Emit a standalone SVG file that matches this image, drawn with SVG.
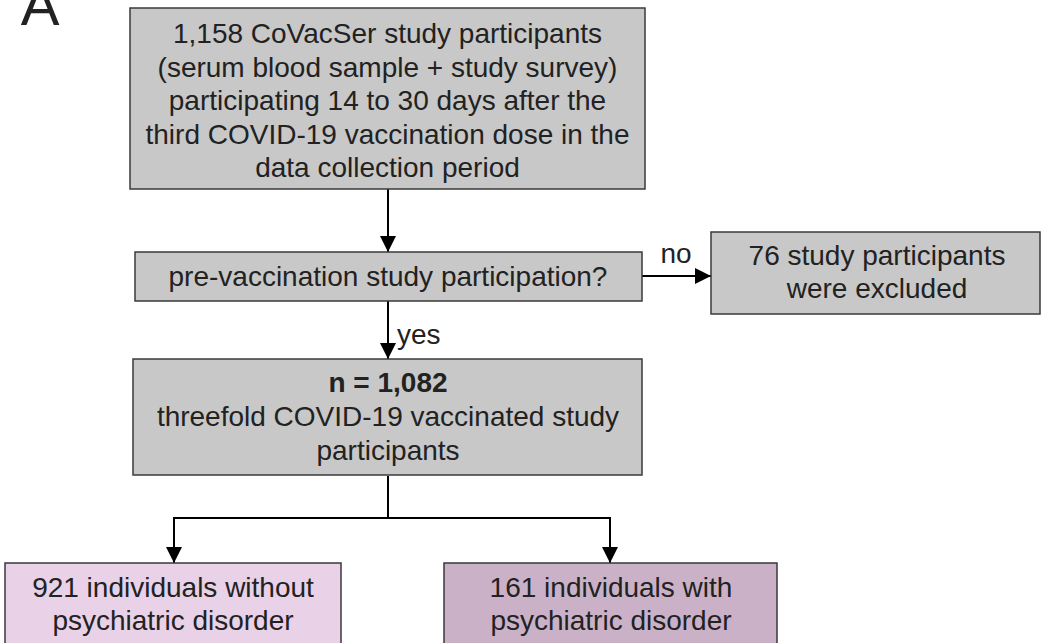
<svg xmlns="http://www.w3.org/2000/svg" width="1043" height="643" viewBox="0 0 1043 643">
<style>
.box{stroke:#3a3a3a;stroke-width:1.5}
.grey{fill:#c8c8c8}
.pink{fill:#e9d1e7}
.mauve{fill:#cbb1c8}
text{font-family:"Liberation Sans",Arial,sans-serif;font-size:28px;fill:#222;text-anchor:middle}
.conn{stroke:#000;stroke-width:2;fill:none}
</style>
<defs>
<marker id="ah" markerUnits="userSpaceOnUse" markerWidth="16" markerHeight="16" viewBox="0 0 16 16" refX="16" refY="8" orient="auto">
<path d="M0,0 L16,8 L0,16 Z" fill="#000"/>
</marker>
</defs>
<rect width="1043" height="643" fill="#fff"/>
<text id="panel" x="40" y="25" style="font-size:58px;fill:#222">A</text>
<g id="connectors">
<line class="conn" x1="388" y1="189" x2="388" y2="252" marker-end="url(#ah)"/>
<line class="conn" x1="388" y1="301" x2="388" y2="359" marker-end="url(#ah)"/>
<line class="conn" x1="642" y1="276" x2="711" y2="276" marker-end="url(#ah)"/>
<polyline class="conn" points="388,476 388,518"/>
<polyline class="conn" points="174,518 610,518"/>
<line class="conn" x1="174" y1="517" x2="174" y2="563" marker-end="url(#ah)"/>
<line class="conn" x1="610" y1="517" x2="610" y2="563" marker-end="url(#ah)"/>
<text x="676" y="263">no</text>
<text x="397" y="344" style="text-anchor:start">yes</text>
</g>
<g id="n-start">
<rect class="box grey" x="130" y="8" width="515" height="181"/>
<text x="387.5" y="43">1,158 CoVacSer study participants</text>
<text x="387.5" y="76.5">(serum blood sample + study survey)</text>
<text x="387.5" y="110">participating 14 to 30 days after the</text>
<text x="387.5" y="143.5">third COVID-19 vaccination dose in the</text>
<text x="387.5" y="177">data collection period</text>
</g>
<g id="n-question">
<rect class="box grey" x="135" y="252" width="507" height="49"/>
<text x="388" y="286">pre-vaccination study participation?</text>
</g>
<g id="n-excluded">
<rect class="box grey" x="711" y="232" width="329" height="82"/>
<text x="877" y="265">76 study participants</text>
<text x="877" y="298">were excluded</text>
</g>
<g id="n-cohort">
<rect class="box grey" x="133" y="359" width="509" height="116"/>
<text x="388" y="392" style="font-weight:bold">n = 1,082</text>
<text x="388" y="426">threefold COVID-19 vaccinated study</text>
<text x="388" y="460">participants</text>
</g>
<g id="n-without">
<rect class="box pink" x="5" y="563" width="336" height="90"/>
<text x="173" y="597">921 individuals without</text>
<text x="173" y="630">psychiatric disorder</text>
</g>
<g id="n-with">
<rect class="box mauve" x="444" y="563" width="333" height="90"/>
<text x="611" y="597">161 individuals with</text>
<text x="611" y="630">psychiatric disorder</text>
</g>
</svg>
